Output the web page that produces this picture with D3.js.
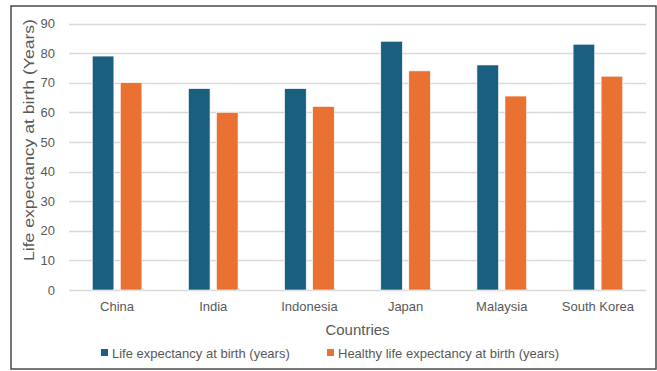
<!DOCTYPE html>
<html>
<head>
<meta charset="utf-8">
<script src="https://cdn.jsdelivr.net/npm/d3@7"></script>
<style>
  body { margin: 0; background: #fff; }
  text { font-family: "Liberation Sans", Arial, sans-serif; fill: #595959; }
</style>
</head>
<body>
<script>
// chart data
const countries = ["China", "India", "Indonesia", "Japan", "Malaysia", "South Korea"];
const lifeExp = [79, 68, 68, 84, 76, 83];
const healthyExp = [70, 60, 62, 74, 65.5, 72.2];
const seriesNames = ["Life expectancy at birth (years)", "Healthy life expectancy at birth (years)"];
const yTicks = [0, 10, 20, 30, 40, 50, 60, 70, 80, 90];

const colors = ["#1a5e80", "#e97132"];
const W = 657, H = 371;
const plot = {left: 69, right: 646, top: 23.5, bottom: 290};

const svg = d3.select("body").append("svg")
    .attr("width", W)
    .attr("height", H);

// frame
svg.append("rect")
    .attr("x", 11).attr("y", 6)
    .attr("width", 645).attr("height", 363)
    .attr("fill", "#fff")
    .attr("stroke", "#4a4a4a")
    .attr("stroke-width", 1.5);

let y = d3.scaleLinear().domain([0, 90]).range([plot.bottom, plot.top]);

let x0 = d3.scaleBand()
    .domain(countries)
    .range([plot.left, plot.right])
    .paddingInner(0.484)
    .paddingOuter(0.242);

let x1 = d3.scaleBand()
    .domain([0, 1])
    .range([0, x0.bandwidth()])
    .paddingInner(0.229);

// gridlines
svg.append("g").selectAll("line")
    .data(yTicks)
    .join("line")
    .attr("x1", plot.left).attr("x2", plot.right)
    .attr("y1", d => Math.round(y(d)) + 0.5)
    .attr("y2", d => Math.round(y(d)) + 0.5)
    .attr("stroke", "#d9d9d9")
    .attr("stroke-width", 1.5);

// y axis labels
let yAxis = svg.append("g")
    .attr("transform", `translate(${plot.left}, 0)`)
    .call(d3.axisLeft(y).tickValues(yTicks).tickSize(0).tickPadding(14));
yAxis.select(".domain").remove();
yAxis.selectAll("text")
    .style("font-family", '"Liberation Sans", Arial, sans-serif')
    .style("font-size", "13px")
    .attr("fill", "#595959");

// x axis labels
let xAxis = svg.append("g")
    .attr("transform", `translate(0, ${plot.bottom})`)
    .call(d3.axisBottom(x0).tickSize(0).tickPadding(12));
xAxis.select(".domain").remove();
xAxis.selectAll("text")
    .style("font-family", '"Liberation Sans", Arial, sans-serif')
    .style("font-size", "13px")
    .attr("fill", "#595959");

// bars
const rows = countries.map((c, i) => ({country: c, values: [lifeExp[i], healthyExp[i]]}));
svg.append("g").selectAll("g")
    .data(rows)
    .join("g")
    .attr("transform", d => `translate(${x0(d.country)}, 0)`)
    .selectAll("rect")
    .data(d => d.values.map((v, k) => ({k: k, v: v})))
    .join("rect")
    .attr("x", d => x1(d.k))
    .attr("y", d => y(d.v))
    .attr("width", x1.bandwidth())
    .attr("height", d => y(0) - y(d.v))
    .attr("fill", d => colors[d.k])
    .attr("stroke", "#fff")
    .attr("stroke-width", 0.6);

// axis titles
svg.append("text")
    .attr("x", (plot.left + plot.right) / 2)
    .attr("y", 335)
    .attr("text-anchor", "middle")
    .style("font-size", "15px")
    .text("Countries");

svg.append("text")
    .attr("transform", "translate(34, 140) rotate(-90)")
    .attr("text-anchor", "middle")
    .style("font-size", "15px")
    .attr("textLength", 242)
    .attr("lengthAdjust", "spacingAndGlyphs")
    .text("Life expectancy at birth (Years)");

// legend
const legendX = [101, 327];
let legend = svg.append("g").selectAll("g")
    .data(seriesNames)
    .join("g")
    .attr("transform", (d, i) => `translate(${legendX[i]}, 353)`);
legend.append("rect")
    .attr("x", 0).attr("y", -4)
    .attr("width", 7).attr("height", 7)
    .attr("fill", (d, i) => colors[i]);
legend.append("text")
    .attr("x", 11).attr("y", 4.5)
    .style("font-size", "13px")
    .text(d => d);
</script>
</body>
</html>
